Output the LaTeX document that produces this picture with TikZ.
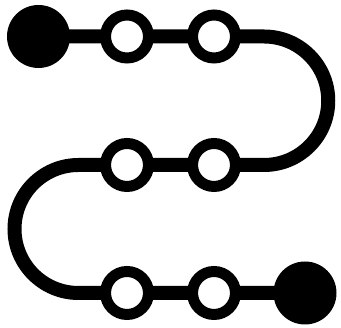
\documentclass[tikz,border=0pt]{standalone}
\begin{document}
\begin{tikzpicture}[x=1pt,y=1pt,
  ring/.style={circle,draw=black,fill=white,line width=11pt,minimum size=43pt,inner sep=0pt},
  endpt/.style={circle,fill=black,minimum size=63pt,inner sep=0pt},
  track/.style={line width=14pt,black}]
\useasboundingbox (0,0) rectangle (341,328);
% positions
\coordinate (s) at (38.5,291.5);
\coordinate (t1) at (127,291.5);
\coordinate (t2) at (214,291.5);
\coordinate (ra) at (264,291.5);
\coordinate (m2) at (214,163);
\coordinate (m1) at (127,163);
\coordinate (la) at (78.5,163);
\coordinate (b1) at (127,35);
\coordinate (b2) at (214,35);
\coordinate (e) at (305,35);
% track
\draw[track] (s) -- (t1) -- (t2) -- (ra) arc[start angle=90,end angle=-90,radius=64.25]
  -- (m2) -- (m1) -- (la) arc[start angle=90,end angle=270,radius=64] -- (b1) -- (b2) -- (e);
% stops
\node[endpt] (S) at (s) {};
\node[ring] (T1) at (t1) {};
\node[ring] (T2) at (t2) {};
\node[ring] (M2) at (m2) {};
\node[ring] (M1) at (m1) {};
\node[ring] (B1) at (b1) {};
\node[ring] (B2) at (b2) {};
\node[endpt] (E) at (e) {};
\end{tikzpicture}
\end{document}
